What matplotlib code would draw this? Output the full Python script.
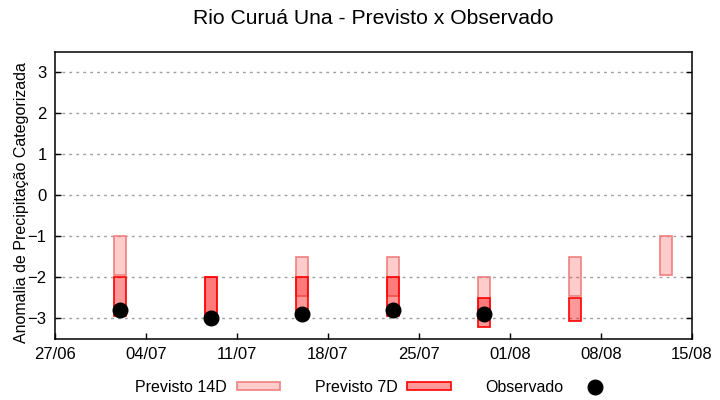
import numpy as np
import matplotlib
matplotlib.use("Agg")
import matplotlib.pyplot as plt
import matplotlib.dates as mdates
from matplotlib.patches import Patch
from matplotlib.lines import Line2D

plt.rcParams['font.family'] = ['Liberation Sans', 'DejaVu Sans']

# ---- data ----
dates = np.array(['2023-07-02', '2023-07-09', '2023-07-16', '2023-07-23',
                  '2023-07-30', '2023-08-06', '2023-08-13'], dtype='datetime64[D]')
p14_top = np.array([-1.0, -2.0, -1.5, -1.5, -2.0, -1.5, -1.0])
p14_bottom = np.array([-1.95, -3.0, -2.45, -2.45, -3.0, -2.45, -1.95])
p7_top = np.array([-2.0, -2.0, -2.0, -2.0, -2.5, -2.5, np.nan])
p7_bottom = np.array([-2.95, -3.0, -2.95, -2.95, -3.2, -3.05, np.nan])
observado = np.array([-2.8, -3.0, -2.9, -2.8, -2.9, np.nan, np.nan])

xticks = np.arange(np.datetime64('2023-06-27'), np.datetime64('2023-08-16'), 7)
yticks = [-3, -2, -1, 0, 1, 2, 3]

title = "Rio Curuá Una - Previsto x Observado"
ylabel = "Anomalia de Precipitação Categorizada"

# ---- figure ----
fig = plt.figure(figsize=(7.2, 4.0), dpi=100)
ax = fig.add_axes([55/720, 1-339/400, (692-55)/720, (339-51.5)/400])

c14_face = (1, 0, 0, 0.2)
c14_edge = '#F08080'
c7_face = (1, 0, 0, 0.4)
c7_edge = '#FF0000'

m14 = ~np.isnan(p14_top)
ax.bar(dates[m14], p14_top[m14] - p14_bottom[m14], bottom=p14_bottom[m14], width=0.97,
       facecolor=c14_face, edgecolor=c14_edge, linewidth=1.2, zorder=3)
m7 = ~np.isnan(p7_top)
ax.bar(dates[m7], p7_top[m7] - p7_bottom[m7], bottom=p7_bottom[m7], width=0.97,
       facecolor=c7_face, edgecolor=c7_edge, linewidth=1.2, zorder=4)
mo = ~np.isnan(observado)
ax.plot(dates[mo], observado[mo], 'o', color='black', markersize=10.5, zorder=5, linestyle='none')

ax.set_xlim(np.datetime64('2023-06-27'), np.datetime64('2023-08-15'))
ax.set_ylim(-3.5, 3.5)
ax.set_xticks(xticks)
ax.xaxis.set_major_formatter(mdates.DateFormatter('%d/%m'))
ax.set_yticks(yticks)
ax.tick_params(axis='both', direction='in', length=4, width=1, labelsize=12, pad=6)
ax.tick_params(axis='y', right=True, pad=6)
ax.grid(axis='y', color='#a0a0a0', linestyle=(0, (2, 3)), linewidth=1)
for s in ax.spines.values():
    s.set_linewidth(1.1)

ax.set_ylabel(ylabel, fontsize=11.5)
ax.yaxis.set_label_coords((29 - 55) / 637, (339 - 202.5) / 287.5)
fig.text(373.5/720, 1-19/400, title, ha='center', va='center', fontsize=15.2)

handles = [Patch(facecolor=c14_face, edgecolor=c14_edge, linewidth=1.2),
           Patch(facecolor=c7_face, edgecolor=c7_edge, linewidth=1.2),
           Line2D([], [], marker='o', color='black', linestyle='none', markersize=10.5)]
labels = ['Previsto 14D', 'Previsto 7D', 'Observado']
fig.legend(handles, labels, loc='center', bbox_to_anchor=(376/720, 1-387/400), ncol=3,
           frameon=False, markerfirst=False, fontsize=11.5, handlelength=2.7,
           handleheight=0.4, handletextpad=0.6, columnspacing=2.2)

fig.savefig('out.png', dpi=100)
